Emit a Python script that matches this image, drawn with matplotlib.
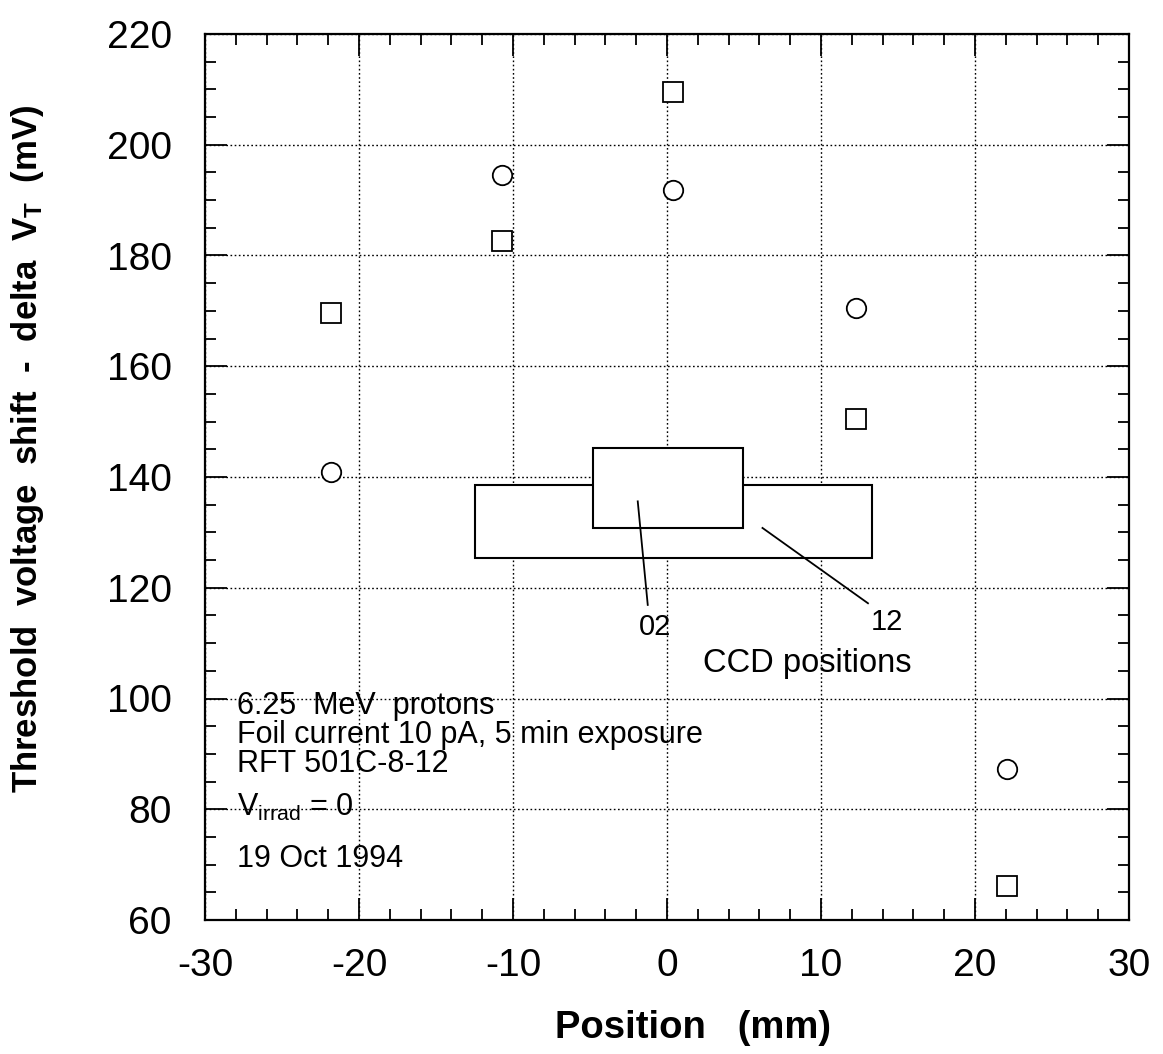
import matplotlib
matplotlib.use("Agg")
import matplotlib.pyplot as plt
from matplotlib.patches import Rectangle
from matplotlib.ticker import MultipleLocator

plt.rcParams['font.family'] = ['Liberation Sans', 'DejaVu Sans']
plt.rcParams['mathtext.fontset'] = 'custom'
plt.rcParams['mathtext.rm'] = 'Liberation Sans'
plt.rcParams['mathtext.it'] = 'Liberation Sans'
plt.rcParams['mathtext.bf'] = 'Liberation Sans:bold'
plt.rcParams['axes.unicode_minus'] = False

# Data
circle_x = [-21.8, -10.7, 0.4, 12.3, 22.1]
circle_y = [140.9, 194.5, 191.9, 170.5, 87.3]
square_x = [-21.8, -10.7, 0.4, 12.3, 22.1]
square_y = [169.7, 182.6, 209.6, 150.4, 66.1]

# CCD boxes: (x0, x1, y0, y1)
ccd12_box = [-12.45, 13.3, 125.3, 138.5]
ccd02_box = [-4.8, 4.95, 130.8, 145.2]
ccd_labels = ["02", "12"]

fig = plt.figure(figsize=(11.63, 10.54), dpi=100)
ax = fig.add_axes([205/1163, 1-920/1054, (1129-205)/1163, (920-34)/1054])

ax.set_xlim(-30, 30)
ax.set_ylim(60, 220)

ax.xaxis.set_major_locator(MultipleLocator(10))
ax.xaxis.set_minor_locator(MultipleLocator(2))
ax.yaxis.set_major_locator(MultipleLocator(20))
ax.yaxis.set_minor_locator(MultipleLocator(5))

ax.grid(True, which='major', linestyle=(0, (1.2, 1.8)), color='black', linewidth=1.0)
ax.set_axisbelow(True)

ax.tick_params(which='both', direction='in', top=True, right=True, width=1.3)
ax.tick_params(which='major', length=16, labelsize=28)
ax.tick_params(axis='x', which='major', pad=20)
ax.tick_params(axis='y', which='major', pad=24)
ax.tick_params(which='minor', length=8)
for s in ax.spines.values():
    s.set_linewidth(1.6)

# CCD boxes
for (x0, x1, y0, y1) in [ccd12_box, ccd02_box]:
    ax.add_patch(Rectangle((x0, y0), x1 - x0, y1 - y0, facecolor='white',
                           edgecolor='black', linewidth=1.5, zorder=2))

# leader lines
ax.plot([-1.9, -1.25], [135.6, 116.9], color='black', lw=1.3, zorder=3)
ax.plot([6.2, 13.05], [130.8, 117.2], color='black', lw=1.3, zorder=3)
ax.text(-0.78, 111.4, ccd_labels[0], fontsize=21, ha='center', va='baseline')
ax.text(14.3, 112.3, ccd_labels[1], fontsize=21, ha='center', va='baseline')
ax.text(2.34, 104.8, "CCD positions", fontsize=23.5, ha='left', va='baseline')

# data points
ax.plot(circle_x, circle_y, linestyle='none', marker='o', markersize=14,
        markerfacecolor='white', markeredgecolor='black', markeredgewidth=1.3, zorder=4)
ax.plot(square_x, square_y, linestyle='none', marker='s', markersize=14,
        markerfacecolor='white', markeredgecolor='black', markeredgewidth=1.3, zorder=4)

# annotation block
info_lines = ["6.25  MeV  protons", "Foil current 10 pA, 5 min exposure",
              "RFT 501C-8-12", r"V$_{\mathrm{irrad}}$ = 0", "19 Oct 1994"]
info_y = [97.2, 91.95, 86.7, 78.8, 69.6]
for t, yy in zip(info_lines, info_y):
    ax.text(-27.95, yy, t, fontsize=22, ha='left', va='baseline', zorder=5)

fig.text(693/1163, 1-1038/1054, "Position   (mm)", fontsize=27.5, fontweight='bold',
         ha='center', va='baseline')
fig.text(28/1163, 1-449/1054,
         r"Threshold  voltage  shift  -  delta  V$_\mathbf{T}$  (mV)",
         fontsize=25, fontweight='bold', rotation=90, ha='center', va='center')

fig.savefig("out.png", dpi=100)
